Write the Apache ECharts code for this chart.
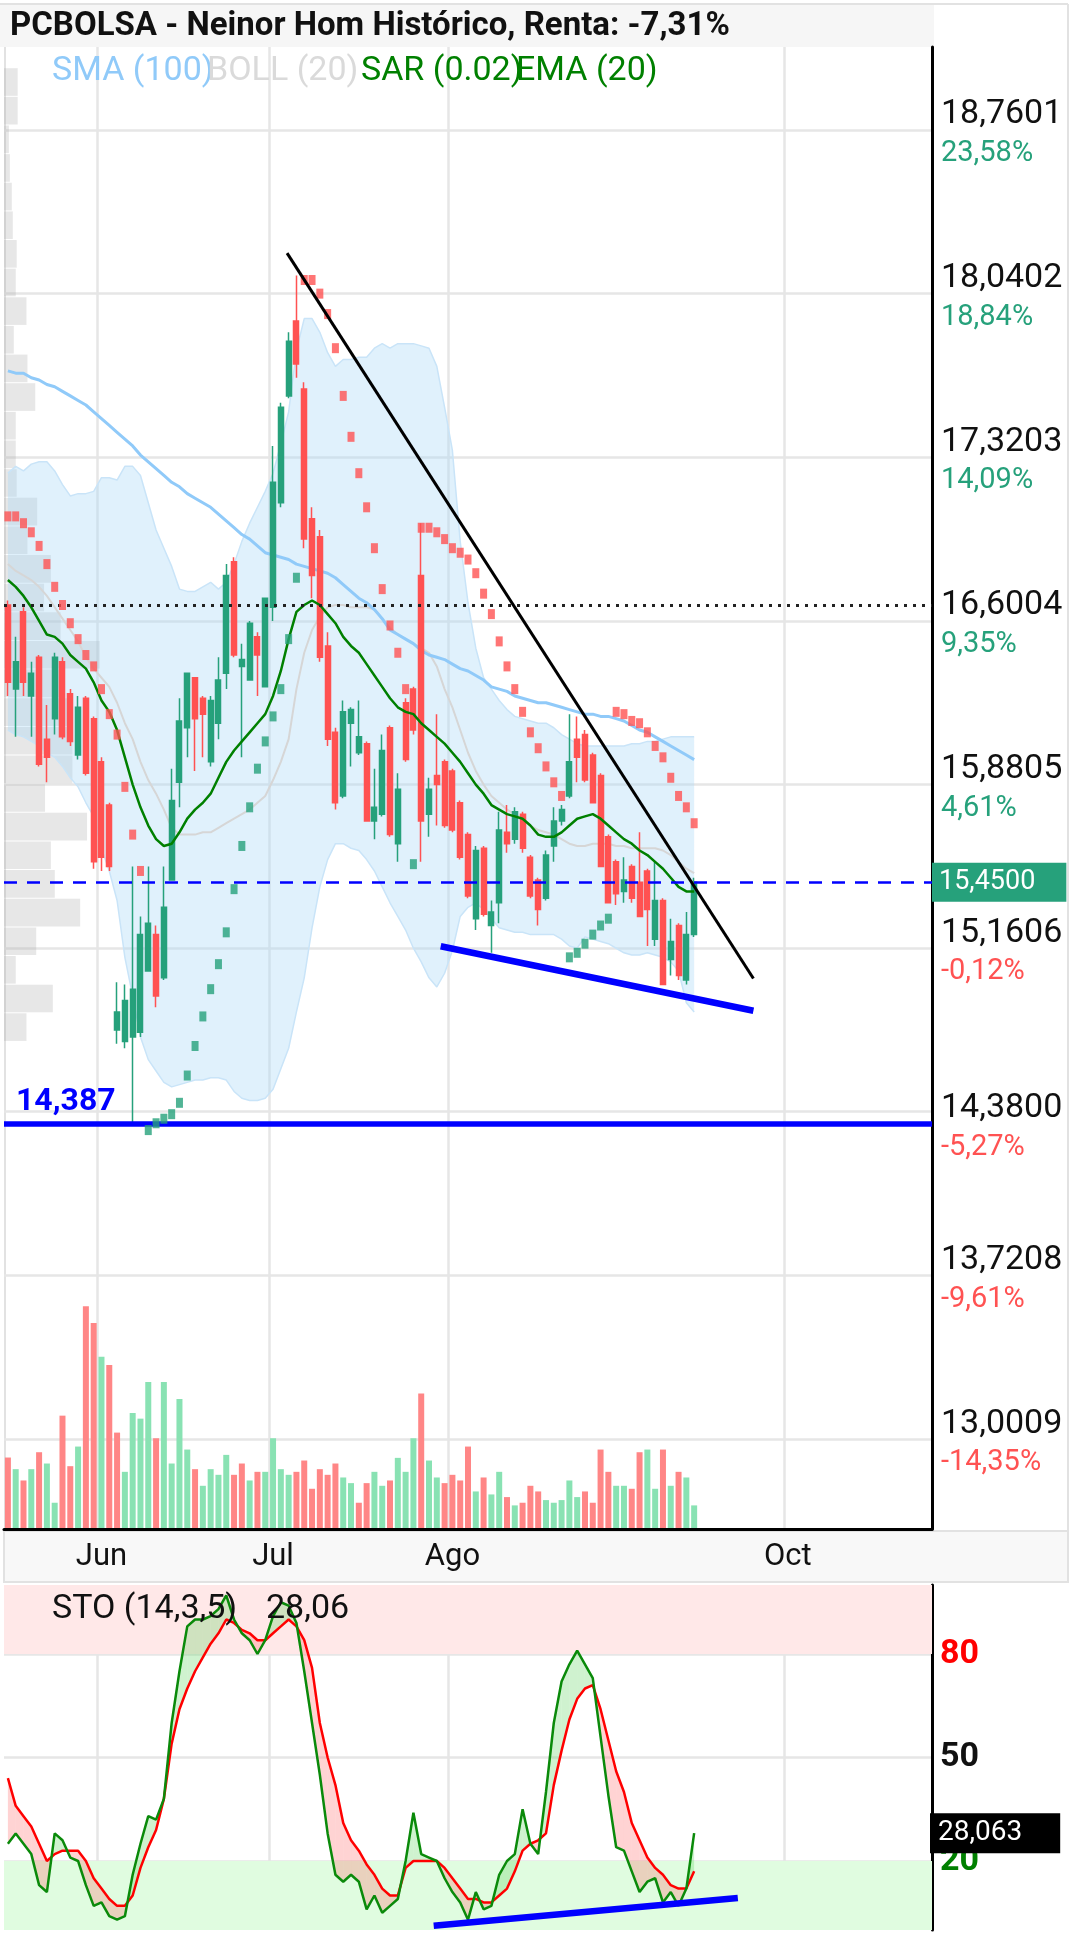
<!DOCTYPE html>
<html><head><meta charset="utf-8">
<script src="https://cdn.jsdelivr.net/npm/echarts@6/dist/echarts.min.js"></script>
<style>html,body{margin:0;padding:0;background:#fff;}#c{width:1076px;height:1936px;}</style>
</head><body><div id="c"></div>
<script>
const dates = ['2020-05-14','2020-05-15','2020-05-18','2020-05-19','2020-05-20','2020-05-21','2020-05-22','2020-05-25','2020-05-26','2020-05-27','2020-05-28','2020-05-29',
'2020-06-01','2020-06-02','2020-06-03','2020-06-04','2020-06-05','2020-06-08','2020-06-09','2020-06-10','2020-06-11','2020-06-12','2020-06-15','2020-06-16','2020-06-17','2020-06-18','2020-06-19','2020-06-22','2020-06-23','2020-06-24','2020-06-25','2020-06-26','2020-06-29','2020-06-30',
'2020-07-01','2020-07-02','2020-07-03','2020-07-06','2020-07-07','2020-07-08','2020-07-09','2020-07-10','2020-07-13','2020-07-14','2020-07-15','2020-07-16','2020-07-17','2020-07-20','2020-07-21','2020-07-22','2020-07-23','2020-07-24','2020-07-27','2020-07-28','2020-07-29','2020-07-30','2020-07-31',
'2020-08-03','2020-08-04','2020-08-05','2020-08-06','2020-08-07','2020-08-10','2020-08-11','2020-08-12','2020-08-13','2020-08-14','2020-08-17','2020-08-18','2020-08-19','2020-08-20','2020-08-21','2020-08-24','2020-08-25','2020-08-26','2020-08-27','2020-08-28','2020-08-31',
'2020-09-01','2020-09-02','2020-09-03','2020-09-04','2020-09-07','2020-09-08','2020-09-09','2020-09-10','2020-09-11','2020-09-14','2020-09-15','2020-09-16','2020-09-17','2020-09-18','2020-09-21','2020-09-22','2020-09-23','2020-09-24','2020-09-25','2020-09-28','2020-09-29','2020-09-30',
'2020-10-01','2020-10-02','2020-10-05','2020-10-06','2020-10-07','2020-10-08','2020-10-09','2020-10-12','2020-10-13','2020-10-14','2020-10-15','2020-10-16','2020-10-19','2020-10-20','2020-10-21','2020-10-22','2020-10-23','2020-10-26','2020-10-27'];

const monthTicks = ['2020-06-01','2020-07-01','2020-08-03','2020-10-01'];
const monthLabels = ['Jun','Jul','Ago','Oct'];

const opens  = [16.67,16.30,16.64,16.27,16.44,16.08,16.17,16.42,16.28,16.01,16.26,16.17,15.98,15.79,14.80,14.75,14.77,14.79,15.06,15.22,15.03,15.46,15.89,16.13,16.35,16.26,15.98,16.15,16.37,16.86,16.40,16.34,16.53,16.31,16.66,17.12,17.59,17.92,17.62,17.05,16.97,16.49,16.11,15.83,16.15,16.02,16.06,15.72,15.75,16.13,15.62,16.24,16.30,16.80,15.75,15.92,15.98,15.94,15.80,15.66,15.29,15.60,15.26,15.36,15.67,15.64,15.75,15.56,15.46,15.38,15.61,15.72,15.83,16.08,16.10,16.01,15.92,15.65,15.54,15.41,15.52,15.45,15.50,15.20,15.37,15.11,15.26,15.02,15.22];
const closes = [16.33,16.42,16.33,16.37,15.97,16.00,16.44,16.09,16.07,16.22,15.93,15.54,15.56,15.52,14.88,14.93,14.98,15.22,15.27,14.95,15.34,15.81,16.16,16.37,16.17,16.19,16.25,16.34,16.80,16.45,16.43,16.59,16.45,16.70,17.21,17.54,17.83,17.73,16.96,16.80,16.44,16.08,15.80,16.20,16.21,16.09,15.72,15.78,16.03,15.66,15.86,15.99,16.12,15.72,15.86,15.88,15.70,15.68,15.56,15.39,15.59,15.31,15.32,15.68,15.62,15.76,15.60,15.39,15.33,15.57,15.72,15.77,15.98,16.00,15.90,15.80,15.52,15.36,15.40,15.46,15.38,15.30,15.33,15.37,15.00,15.19,15.04,15.22,15.45];
const lows   = [16.27,16.09,16.27,16.09,15.96,15.89,16.10,16.08,16.05,15.99,15.92,15.51,15.50,15.50,14.74,14.72,14.39,14.77,15.06,14.90,15.02,15.46,15.78,16.00,15.94,16.00,15.96,16.08,16.30,16.44,16.00,16.34,16.27,16.31,16.60,17.10,17.58,17.67,16.92,16.70,16.42,16.05,15.77,15.82,15.96,16.01,15.72,15.64,15.74,15.65,15.54,15.98,16.10,15.54,15.65,15.70,15.69,15.67,15.55,15.38,15.24,15.30,15.14,15.27,15.58,15.62,15.58,15.38,15.26,15.37,15.54,15.70,15.82,15.89,15.89,15.80,15.52,15.36,15.35,15.36,15.36,15.30,15.17,15.17,15.00,15.04,15.02,15.00,15.21];
const highs  = [16.69,16.53,16.66,16.42,16.45,16.23,16.46,16.44,16.30,16.27,16.27,16.18,16.00,15.80,15.01,15.00,15.52,15.30,15.52,15.26,15.52,15.95,16.26,16.37,16.35,16.27,16.27,16.44,16.85,16.88,16.50,16.60,16.55,16.70,17.37,17.56,17.87,18.12,17.65,17.10,17.00,16.55,16.13,16.25,16.22,16.25,16.07,15.95,16.10,16.14,15.93,16.26,16.31,17.03,15.91,16.19,15.99,15.95,15.81,15.67,15.61,15.61,15.37,15.76,15.79,15.78,15.76,15.57,15.47,15.59,15.78,15.79,16.19,16.18,16.12,16.02,15.93,15.66,15.55,15.56,15.53,15.67,15.51,15.54,15.38,15.29,15.27,15.32,15.47];
const volumes = [212,177,143,177,228,194,76,338,186,245,667,617,515,490,287,169,346,329,439,270,439,194,388,236,177,127,177,160,220,160,194,143,169,169,270,177,160,169,203,118,177,160,194,152,135,76,135,169,127,143,211,169,270,405,203,152,135,160,143,245,110,152,101,169,93,68,76,127,110,84,76,84,143,93,110,76,236,169,127,127,118,228,236,118,236,127,169,152,68];

const sma100 = [17.70,17.69,17.69,17.67,17.66,17.64,17.63,17.61,17.59,17.57,17.55,17.52,17.49,17.46,17.43,17.40,17.37,17.33,17.30,17.27,17.24,17.21,17.19,17.16,17.14,17.12,17.10,17.07,17.04,17.01,16.98,16.96,16.93,16.90,16.89,16.88,16.87,16.85,16.84,16.83,16.82,16.81,16.79,16.76,16.73,16.70,16.68,16.65,16.61,16.56,16.54,16.52,16.50,16.47,16.45,16.44,16.43,16.41,16.39,16.38,16.36,16.34,16.31,16.30,16.29,16.27,16.26,16.25,16.24,16.24,16.23,16.22,16.21,16.20,16.19,16.19,16.18,16.18,16.17,16.16,16.14,16.12,16.11,16.09,16.07,16.05,16.03,16.01,15.99];
const bollUpper = [17.25,17.28,17.26,17.29,17.30,17.30,17.26,17.20,17.15,17.16,17.16,17.17,17.23,17.23,17.22,17.28,17.28,17.24,17.12,17.00,16.92,16.84,16.74,16.73,16.73,16.75,16.77,16.74,16.77,16.85,16.95,17.03,17.10,17.17,17.25,17.38,17.52,17.79,17.93,17.93,17.87,17.78,17.72,17.75,17.75,17.76,17.76,17.80,17.82,17.80,17.82,17.82,17.82,17.81,17.80,17.72,17.54,17.35,16.95,16.68,16.48,16.35,16.30,16.25,16.21,16.18,16.17,16.16,16.15,16.15,16.13,16.10,16.08,16.06,16.05,16.05,16.05,16.05,16.05,16.05,16.06,16.06,16.07,16.07,16.08,16.09,16.09,16.09,16.09];
const bollMid = [16.85,16.82,16.80,16.78,16.75,16.71,16.66,16.61,16.56,16.51,16.44,16.39,16.35,16.31,16.24,16.15,16.08,15.98,15.90,15.84,15.77,15.69,15.66,15.66,15.66,15.67,15.67,15.69,15.71,15.73,15.75,15.77,15.80,15.83,15.90,15.98,16.08,16.30,16.46,16.56,16.62,16.66,16.67,16.67,16.66,16.66,16.66,16.65,16.61,16.57,16.54,16.52,16.50,16.48,16.46,16.40,16.30,16.22,16.12,16.02,15.94,15.88,15.83,15.80,15.77,15.75,15.73,15.70,15.68,15.67,15.66,15.64,15.62,15.61,15.61,15.62,15.62,15.62,15.61,15.61,15.60,15.60,15.60,15.60,15.59,15.57,15.54,15.51,15.49];
const bollLower = [16.12,16.10,16.09,16.07,16.05,16.02,16.00,15.96,15.91,15.87,15.80,15.74,15.60,15.50,15.37,15.12,14.95,14.77,14.67,14.62,14.57,14.55,14.56,14.57,14.58,14.58,14.59,14.59,14.58,14.53,14.50,14.49,14.49,14.50,14.54,14.63,14.72,14.88,15.03,15.25,15.43,15.55,15.62,15.62,15.60,15.59,15.55,15.50,15.43,15.36,15.30,15.24,15.16,15.10,15.03,14.99,15.05,15.15,15.30,15.34,15.36,15.33,15.29,15.25,15.24,15.23,15.23,15.22,15.22,15.22,15.22,15.20,15.17,15.16,15.21,15.20,15.19,15.18,15.16,15.14,15.13,15.13,15.14,15.13,15.12,15.10,15.06,14.92,14.88];
const ema20 = [16.78,16.75,16.71,16.66,16.60,16.54,16.53,16.50,16.45,16.42,16.39,16.33,16.25,16.20,16.12,16.00,15.88,15.78,15.70,15.64,15.61,15.62,15.67,15.73,15.77,15.80,15.84,15.91,15.98,16.03,16.07,16.11,16.15,16.19,16.27,16.38,16.52,16.64,16.67,16.69,16.67,16.63,16.59,16.53,16.49,16.46,16.41,16.36,16.31,16.26,16.22,16.20,16.19,16.15,16.12,16.09,16.06,16.02,15.98,15.93,15.88,15.84,15.79,15.77,15.75,15.74,15.73,15.70,15.66,15.65,15.65,15.67,15.70,15.73,15.74,15.75,15.73,15.70,15.67,15.64,15.62,15.59,15.57,15.54,15.51,15.47,15.43,15.41,15.41];
const sar = [17.06,17.06,17.03,16.99,16.93,16.85,16.75,16.67,16.59,16.52,16.45,16.40,16.30,16.19,16.10,15.87,15.66,15.50,14.36,14.39,14.41,14.43,14.48,14.60,14.73,14.86,14.98,15.09,15.23,15.42,15.61,15.78,15.95,16.07,16.18,16.30,16.52,16.79,18.10,18.10,18.04,17.95,17.80,17.59,17.41,17.25,17.10,16.92,16.74,16.58,16.46,16.30,15.53,17.01,17.01,16.99,16.96,16.92,16.90,16.87,16.81,16.72,16.63,16.51,16.40,16.30,16.20,16.11,16.04,15.96,15.89,15.83,15.12,15.14,15.18,15.22,15.26,15.29,16.20,16.19,16.16,16.15,16.11,16.05,16.00,15.91,15.83,15.78,15.71];

const stoK = [25,28,25,22,13,11,28,26,21,20,13,7,8,4,3,4,16,25,33,32,38,60,75,88,90,90,91,93,97,90,86,84,80,84,91,95,94,89,75,60,45,28,16,14,16,14,6,10,5,7,9,20,34,22,21,20,15,11,8,3,11,6,7,16,20,22,35,25,22,40,60,72,77,81,77,73,56,39,24,23,17,11,14,15,8,11,7,12,28.06];
const stoD = [44,36,33,30,25,20,22,23,23,23,20,15,12,9,7,7,10,18,24,29,38,54,64,70,75,79,83,86,90,89,87,86,84,84,86,88,90,88,84,76,60,50,42,31,26,23,19,16,12,10,10,18,20,20,20,20,18,15,12,9,9,8,8,10,12,17,23,25,26,28,42,52,61,67,70,71,64,55,46,40,31,26,21,18,16,13,12,12,17];

const profileLow = [14.750,14.876,15.002,15.128,15.254,15.380,15.506,15.632,15.758,15.884,16.010,16.136,16.262,16.388,16.514,16.640,16.766,16.892,17.018,17.144,17.270,17.396,17.522,17.648,17.774,17.900,18.026,18.152,18.278,18.404,18.530,18.656,18.782,18.908];
const profileVol = [23,50,12,33,78,52,48,85,42,70,70,70,62,98,58,41,48,24,34,13,12,12,32,24,10,23,12,13,9,8,6,5,14,14];
const profileBin = 0.126;

const priceGridValues  = [18.7601,18.0402,17.3203,16.6004,15.8805,15.1606,14.4407,13.7208,13.0009];
const priceLabelValues = [18.7601,18.0402,17.3203,16.6004,15.8805,15.1606,14.387,13.7208,13.0009];
const priceLabels = ['18,7601','18,0402','17,3203','16,6004','15,8805','15,1606','14,3800','13,7208','13,0009'];
const pctLabels   = ['23,58%','18,84%','14,09%','9,35%','4,61%','-0,12%','-5,27%','-9,61%','-14,35%'];

const lastPrice = 15.45, lastPriceLabel = '15,4500';
const buyPrice = 16.668;
const supportLevel = 14.387, supportLabel = '14,387';
const resistanceLine = [[35.8,18.218],[95.6,15.027]];
const supportLine = [[55.5,15.169],[95.6,14.885]];
const stoTrend = [[54.6,1.2],[93.6,9.3]];
const stoLevels = [80,50,20];
const stoLast = 28.063, stoLastLabel = '28,063', stoTitle = 'STO (14,3,5)', stoValueText = '28,06';

const N = dates.length;
const GL = 4, GR = 144;
const UP = '#26a17b', DOWN = '#ff5252';
const F = 'Roboto';

const chart = echarts.init(document.getElementById('c'), null, {renderer:'canvas', width:1076, height:1936});

const isMonth = (i, v) => monthTicks.indexOf(v) >= 0;
const findIdx = (arr, v) => { let b = 0; for (let k = 1; k < arr.length; k++) if (Math.abs(arr[k]-v) < Math.abs(arr[b]-v)) b = k; return b; };

const option = {
  animation: false,
  backgroundColor: '#fff',
  textStyle: {fontFamily: F},
  grid: [
    {left: GL, right: GR, top: 47, height: 1482},
    {left: GL, right: GR, top: 1291, height: 237},
    {left: GL, right: GR, top: 1585, height: 345}
  ],
  xAxis: [
    {type:'category', gridIndex:0, data:dates, boundaryGap:true,
      axisLine:{show:true, onZero:false, lineStyle:{color:'#000', width:3}}, axisTick:{show:false},
      axisLabel:{interval:isMonth, formatter:v => monthLabels[monthTicks.indexOf(v)] || '', fontSize:31, color:'#111', margin:13, fontFamily:F},
      splitLine:{show:true, interval:isMonth, lineStyle:{color:'#e6e6e6', width:2.5}}},
    {type:'value', gridIndex:0, min:-0.5, max:N-0.5, show:false},
    {type:'category', gridIndex:1, data:dates, show:false},
    {type:'category', gridIndex:2, data:dates, boundaryGap:true,
      axisLine:{show:false}, axisTick:{show:false}, axisLabel:{show:false},
      splitLine:{show:true, interval:isMonth, lineStyle:{color:'#e6e6e6', width:2.5}}},
    {type:'value', gridIndex:2, min:-0.5, max:N-0.5, show:false},
    {type:'value', gridIndex:0, min:0, max:950, show:false}
  ],
  yAxis: [
    {type:'value', gridIndex:0, position:'right', min:12.605, max:19.125,
      axisLine:{show:true, onZero:false, lineStyle:{color:'#000', width:3}},
      axisTick:{show:false, customValues:priceGridValues},
      splitLine:{show:true, lineStyle:{color:'#e6e6e6', width:2.5}},
      axisLabel:{customValues:priceLabelValues, margin:9, align:'left',
        formatter:(v) => { const k = findIdx(priceLabelValues, v); const neg = pctLabels[k].charAt(0) === '-';
          return '{p|' + priceLabels[k] + '}\n{' + (neg ? 'r' : 'g') + '|' + pctLabels[k] + '}'; },
        rich:{p:{fontSize:34, color:'#111', lineHeight:48, fontFamily:F},
              g:{fontSize:29, color:UP, lineHeight:30, fontFamily:F},
              r:{fontSize:29, color:DOWN, lineHeight:30, fontFamily:F}}}},
    {type:'value', gridIndex:1, min:0, max:713, show:false},
    {type:'value', gridIndex:2, position:'right', min:0, max:100,
      axisLine:{show:true, onZero:false, lineStyle:{color:'#000', width:3}},
      axisTick:{show:false, customValues:stoLevels},
      splitLine:{show:true, lineStyle:{color:'#e6e6e6', width:2.5}},
      axisLabel:{customValues:stoLevels, margin:8, align:'left',
        formatter:v => (v >= 79 ? '{r|' : v >= 49 ? '{b|' : '{g|') + v + '}',
        rich:{r:{fontSize:34, fontWeight:'bold', color:'#ff0000', fontFamily:F}, b:{fontSize:34, fontWeight:'bold', color:'#111', fontFamily:F}, g:{fontSize:34, fontWeight:'bold', color:'#008000', fontFamily:F}}}}
  ],
  series: [
    { // volume profile
      type:'custom', xAxisIndex:5, yAxisIndex:0, z:1, silent:true, clip:true,
      data: profileVol.map((v,k) => [v, profileLow[k]]),
      renderItem: (params, api) => {
        const v = api.value(0), p = api.value(1);
        const a = api.coord([0, p + profileBin]); const b = api.coord([v, p]);
        return {type:'rect', shape:{x:a[0], y:a[1]+0.5, width:b[0]-a[0], height:b[1]-a[1]-1}, style:{fill:'rgba(170,170,170,0.28)'}};
      }
    },
    { // bollinger fill
      type:'custom', xAxisIndex:1, yAxisIndex:0, z:1, silent:true, clip:true,
      data: [[0, bollUpper[0]]],
      renderItem: (params, api) => {
        const pts = bollUpper.map((v,i) => api.coord([i, v]));
        const low = bollLower.map((v,i) => api.coord([i, v])).reverse();
        return {type:'polygon', shape:{points:pts.concat(low)}, style:{fill:'rgba(170,215,247,0.36)'}};
      }
    },
    {type:'line', xAxisIndex:0, yAxisIndex:0, data:bollUpper, symbol:'none', z:2, silent:true, lineStyle:{color:'#c9e4f8', width:1.5}},
    {type:'line', xAxisIndex:0, yAxisIndex:0, data:bollLower, symbol:'none', z:2, silent:true, lineStyle:{color:'#c9e4f8', width:1.5}},
    {type:'line', xAxisIndex:0, yAxisIndex:0, data:bollMid, symbol:'none', z:2, silent:true, lineStyle:{color:'#d6d6d6', width:2}},
    {type:'line', xAxisIndex:0, yAxisIndex:0, data:sma100, symbol:'none', z:2, silent:true, lineStyle:{color:'#90caf9', width:3}},
    { type:'candlestick', xAxisIndex:0, yAxisIndex:0, z:3, silent:true, barWidth:5.5,
      data: opens.map((o,i) => [o, closes[i], lows[i], highs[i]]),
      itemStyle:{color:UP, color0:DOWN, borderColor:UP, borderColor0:DOWN, borderWidth:1.5},
      markLine:{silent:true, symbol:['none','none'], animation:false,
        data:[
          {yAxis:buyPrice, lineStyle:{color:'#222', width:3, type:[3,6]}, label:{show:false}},
          {yAxis:supportLevel, lineStyle:{color:'#0000ff', width:5.5, type:'solid'},
            label:{show:true, position:'insideStartTop', distance:[12,5], formatter:supportLabel, color:'#0000ff', fontSize:32, fontWeight:'bold', fontFamily:F}},
          {yAxis:lastPrice, lineStyle:{color:'#0000ff', width:2.5, type:[13,10]},
            label:{show:true, position:'end', distance:0, formatter:lastPriceLabel, color:'#fff', backgroundColor:UP, fontSize:27, lineHeight:30, padding:[5,31,4,7], fontFamily:F}}
        ]}
    },
    {type:'line', xAxisIndex:0, yAxisIndex:0, data:ema20, symbol:'none', z:4, silent:true, lineStyle:{color:'#008000', width:2.5}},
    { type:'scatter', xAxisIndex:0, yAxisIndex:0, z:5, silent:true, symbol:'rect', symbolSize:[7,10],
      data: sar.map((v,i) => ({value:[i, v], itemStyle:{color: v > closes[i] ? DOWN : UP}}))
    },
    {type:'line', xAxisIndex:1, yAxisIndex:0, data:resistanceLine, symbol:'none', z:6, silent:true, lineStyle:{color:'#000', width:3}},
    {type:'line', xAxisIndex:1, yAxisIndex:0, data:supportLine, symbol:'none', z:6, silent:true, lineStyle:{color:'#0000ff', width:6.5}},
    { type:'bar', xAxisIndex:2, yAxisIndex:1, barWidth:6, z:2, silent:true,
      data: volumes.map((v,i) => ({value:v, itemStyle:{color: (i === 0 ? closes[0] < opens[0] : closes[i] < closes[i-1]) ? '#ff8686' : '#89e2b3'}}))
    },
    { // STO fill between K and D
      type:'custom', xAxisIndex:4, yAxisIndex:2, z:2, silent:true, clip:true,
      data: stoK.map((k,i) => [i, k]),
      renderItem: (params, api) => {
        const i = api.value(0);
        if (i >= stoK.length - 1) return null;
        const k0 = stoK[i], k1 = stoK[i+1], d0 = stoD[i], d1 = stoD[i+1];
        const a = k0 - d0, b = k1 - d1;
        const P = (x, y) => api.coord([x, y]);
        const polys = [];
        if (a * b >= 0) {
          polys.push({pts:[P(i,k0), P(i+1,k1), P(i+1,d1), P(i,d0)], up:(a + b) >= 0});
        } else {
          const t = a / (a - b), xc = i + t, yc = k0 + (k1 - k0) * t;
          polys.push({pts:[P(i,k0), P(xc,yc), P(i,d0)], up:a > 0});
          polys.push({pts:[P(xc,yc), P(i+1,k1), P(i+1,d1)], up:b > 0});
        }
        return {type:'group', children: polys.map(p => ({type:'polygon', shape:{points:p.pts},
          style:{fill: p.up ? 'rgba(110,215,110,0.33)' : 'rgba(255,110,110,0.30)'}}))};
      }
    },
    { type:'line', xAxisIndex:3, yAxisIndex:2, data:stoD, symbol:'none', z:3, silent:true, lineStyle:{color:'#ff0000', width:2.5},
      markArea:{silent:true, data:[
        [{yAxis:80, itemStyle:{color:'#ffe8e8'}}, {yAxis:100}],
        [{yAxis:0, itemStyle:{color:'#e0fce0'}}, {yAxis:20}]
      ]}
    },
    { type:'line', xAxisIndex:3, yAxisIndex:2, data:stoK, symbol:'none', z:4, silent:true, lineStyle:{color:'#0a8a0a', width:2.5},
      markLine:{silent:true, symbol:['none','none'], animation:false, data:[
        {yAxis:stoLast, lineStyle:{color:'rgba(0,0,0,0)', width:1}, label:{show:true, position:'end', distance:-2, formatter:stoLastLabel, color:'#fff', backgroundColor:'#000', fontSize:28, lineHeight:30, padding:[5,38,5,8], fontFamily:F}}
      ]}
    },
    {type:'line', xAxisIndex:4, yAxisIndex:2, data:stoTrend, symbol:'none', z:5, silent:true, lineStyle:{color:'#0000ff', width:6.5}}
  ],
  graphic: [
    {type:'rect', z:-1, shape:{x:0, y:4, width:934, height:43}, style:{fill:'#f6f6f6'}},
    {type:'line', z:-1, shape:{x1:0, y1:4, x2:1068, y2:4}, style:{stroke:'#e2e2e2', lineWidth:2}},
    {type:'line', z:-1, shape:{x1:1068, y1:4, x2:1068, y2:1583}, style:{stroke:'#e2e2e2', lineWidth:2}},
    {type:'line', z:-1, shape:{x1:5, y1:47, x2:5, y2:1529}, style:{stroke:'#e2e2e2', lineWidth:2}},
    {type:'rect', z:-1, shape:{x:4, y:1531, width:1064, height:51}, style:{fill:'#f8f8f8', stroke:'#e2e2e2', lineWidth:2}},
    {type:'text', z:100, x:10, y:27, style:{text:'PCBOLSA - Neinor Hom Histórico, Renta: -7,31%', font:'bold 33px Roboto', fill:'#111', verticalAlign:'middle'}},
    {type:'text', z:100, x:52, y:71, style:{text:'SMA (100)', font:'34px Roboto', fill:'#90caf9', verticalAlign:'middle'}},
    {type:'text', z:100, x:207, y:71, style:{text:'BOLL (20)', font:'34px Roboto', fill:'#dadada', verticalAlign:'middle'}},
    {type:'text', z:100, x:361, y:71, style:{text:'SAR (0.02)', font:'34px Roboto', fill:'#008000', verticalAlign:'middle'}},
    {type:'text', z:100, x:516, y:71, style:{text:'EMA (20)', font:'34px Roboto', fill:'#008000', verticalAlign:'middle'}},
    {type:'text', z:100, x:52, y:1609, style:{text:stoTitle, font:'34px Roboto', fill:'#111', verticalAlign:'middle'}},
    {type:'text', z:100, x:266, y:1609, style:{text:stoValueText, font:'34px Roboto', fill:'#111', verticalAlign:'middle'}}
  ]
};
chart.setOption(option);
</script>
</body></html>
